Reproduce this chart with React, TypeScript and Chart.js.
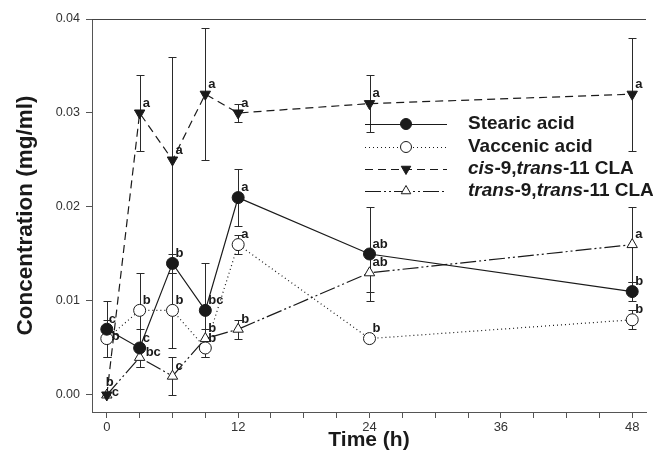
import React, { useEffect, useRef } from 'react';
import { Chart, registerables } from 'chart.js';

Chart.register(...registerables);

const FONT = '"Liberation Sans", Arial, Helvetica, sans-serif';

// ---- data ----
const times = [0, 3, 6, 9, 12, 24, 48];

const stearic = [0.007, 0.005, 0.014, 0.009, 0.021, 0.015, 0.011];
const stearicErr = [0.003, 0.002, 0.001, 0.005, 0.003, 0.005, 0.001];
const stearicLetters = ['c', 'c', 'b', 'bc', 'a', 'ab', 'b'];

const vaccenic = [0.006, 0.009, 0.009, 0.005, 0.016, 0.006, 0.008];
const vaccenicErr = [0.002, 0.004, 0.004, 0.001, 0.001, 0, 0.001];
const vaccenicLetters = ['b', 'b', 'b', 'b', 'a', 'b', 'b'];

const cisCLA = [0.0, 0.03, 0.025, 0.032, 0.03, 0.031, 0.032];
const cisCLAErr = [0, 0.004, 0.011, 0.007, 0.001, 0.003, 0.006];
const cisCLALetters = ['b', 'a', 'a', 'a', 'a', 'a', 'a'];

const transCLA = [0.0, 0.004, 0.002, 0.006, 0.007, 0.013, 0.016];
const transCLAErr = [0, 0.001, 0.002, 0.001, 0.001, 0.002, 0.004];
const transCLALetters = ['c', 'bc', 'c', 'b', 'b', 'ab', 'a'];

const xTicks = [0, 3, 6, 9, 12, 15, 18, 21, 24, 27, 30, 33, 36, 39, 42, 45, 48];
const xTickLabels = [0, 12, 24, 36, 48];
const yTicks = [0, 0.01, 0.02, 0.03, 0.04];

// legend label pieces (text, italic)
const legendLabels: [string, boolean][][] = [
  [['Stearic acid', false]],
  [['Vaccenic acid', false]],
  [['cis', true], ['-9,', false], ['trans', true], ['-11 CLA', false]],
  [['trans', true], ['-9,', false], ['trans', true], ['-11 CLA', false]],
];

// ---- styles ----
const INK = '#1a1a1a';
const seriesStyles = [
  { pointStyle: 'circle', rotation: 0, fill: INK, dash: [] as number[] },
  { pointStyle: 'circle', rotation: 0, fill: '#ffffff', dash: [1, 3] },
  { pointStyle: 'triangle', rotation: 180, fill: INK, dash: [8, 5] },
  { pointStyle: 'triangle', rotation: 0, fill: '#ffffff', dash: [16, 3, 2, 3, 2, 3] },
];

// per-label offset overrides (series index, point index) -> [dx, dy]
const letterOffsets: Record<string, [number, number]> = {
  '0-0': [2, -10],
  '1-0': [5, -2],
  '2-0': [-1, -13],
  '3-0': [5, -3],
  '3-1': [6, -5],
};

const series = [
  { values: stearic, err: stearicErr, letters: stearicLetters },
  { values: vaccenic, err: vaccenicErr, letters: vaccenicLetters },
  { values: cisCLA, err: cisCLAErr, letters: cisCLALetters },
  { values: transCLA, err: transCLAErr, letters: transCLALetters },
];

const errorBarPlugin = {
  id: 'errorBars',
  beforeDatasetsDraw(chart: any) {
    const { ctx, scales } = chart;
    const x = scales.x, y = scales.y;
    ctx.save();
    ctx.strokeStyle = '#2a2a2a';
    ctx.lineWidth = 1;
    ctx.setLineDash([]);
    series.forEach((s) => {
      s.values.forEach((v, i) => {
        const e = s.err[i];
        if (!e) return;
        const px = Math.round(x.getPixelForValue(times[i])) + 0.5;
        const top = Math.round(y.getPixelForValue(v + e)) + 0.5;
        const bot = Math.round(y.getPixelForValue(v - e)) + 0.5;
        ctx.beginPath();
        ctx.moveTo(px, top);
        ctx.lineTo(px, bot);
        ctx.moveTo(px - 4, top);
        ctx.lineTo(px + 4, top);
        ctx.moveTo(px - 4, bot);
        ctx.lineTo(px + 4, bot);
        ctx.stroke();
      });
    });
    ctx.restore();
  },
};

const lettersPlugin = {
  id: 'letters',
  afterDatasetsDraw(chart: any) {
    const { ctx, scales } = chart;
    const x = scales.x, y = scales.y;
    ctx.save();
    ctx.fillStyle = INK;
    ctx.font = `bold 13px ${FONT}`;
    ctx.textAlign = 'left';
    ctx.textBaseline = 'middle';
    series.forEach((s, si) => {
      s.values.forEach((v, i) => {
        const off = letterOffsets[`${si}-${i}`] || [3, -10];
        const px = x.getPixelForValue(times[i]);
        const py = y.getPixelForValue(v);
        ctx.fillText(s.letters[i], px + off[0], py + off[1]);
      });
    });
    ctx.restore();
  },
};

function drawMarker(ctx: CanvasRenderingContext2D, idx: number, cx: number, cy: number, r: number) {
  const st = seriesStyles[idx];
  ctx.save();
  ctx.setLineDash([]);
  ctx.fillStyle = st.fill;
  ctx.strokeStyle = INK;
  ctx.lineWidth = 1;
  ctx.beginPath();
  if (st.pointStyle === 'circle') {
    ctx.arc(cx, cy, r, 0, Math.PI * 2);
  } else {
    const dir = st.rotation === 180 ? -1 : 1;
    ctx.moveTo(cx, cy - dir * r);
    ctx.lineTo(cx + r * 0.866, cy + dir * r * 0.5);
    ctx.lineTo(cx - r * 0.866, cy + dir * r * 0.5);
    ctx.closePath();
  }
  ctx.fill();
  ctx.stroke();
  ctx.restore();
}

const framePlugin = {
  id: 'frameAndLegend',
  afterDraw(chart: any) {
    const { ctx, chartArea } = chart;
    ctx.save();
    // top frame line
    ctx.strokeStyle = '#444';
    ctx.lineWidth = 1;
    ctx.beginPath();
    ctx.moveTo(chartArea.left, Math.round(chartArea.top) + 0.5);
    ctx.lineTo(chartArea.right, Math.round(chartArea.top) + 0.5);
    ctx.stroke();

    // legend
    const lx0 = 365, lx1 = 447, mx = 406, tx = 468;
    const rows = [124, 147, 169, 191];
    rows.forEach((ry, k) => {
      const st = seriesStyles[k];
      ctx.strokeStyle = INK;
      ctx.lineWidth = 1.2;
      ctx.setLineDash(st.dash);
      ctx.beginPath();
      ctx.moveTo(lx0, ry + 0.5);
      ctx.lineTo(lx1, ry + 0.5);
      ctx.stroke();
      ctx.setLineDash([]);
      drawMarker(ctx, k, mx, ry, 5.5);
      let cx = tx;
      ctx.fillStyle = INK;
      ctx.textAlign = 'left';
      ctx.textBaseline = 'middle';
      legendLabels[k].forEach(([t, it]) => {
        ctx.font = `${it ? 'italic ' : ''}bold 19px ${FONT}`;
        ctx.fillText(t, cx, ry);
        cx += ctx.measureText(t).width;
      });
    });
    ctx.restore();
  },
};

export default function App() {
  const ref = useRef<HTMLCanvasElement | null>(null);

  useEffect(() => {
    if (!ref.current) return;
    const datasets = series.map((s, k) => {
      const st = seriesStyles[k];
      return {
        label: legendLabels[k].map((p) => p[0]).join(''),
        data: times.map((t, i) => ({ x: t, y: s.values[i] })),
        borderColor: INK,
        borderWidth: 1.2,
        borderDash: st.dash,
        pointStyle: st.pointStyle,
        pointRotation: st.rotation,
        pointRadius: 6,
        pointHoverRadius: 6,
        pointBackgroundColor: st.fill,
        pointBorderColor: INK,
        pointBorderWidth: 1,
        tension: 0,
        fill: false,
      };
    });

    const chart = new Chart(ref.current, {
      type: 'line',
      data: { datasets: datasets as any },
      options: {
        responsive: false,
        animation: false,
        layout: { padding: { top: 19, right: 0, left: 0, bottom: 0 } },
        plugins: {
          legend: { display: false },
          tooltip: { enabled: false },
        },
        scales: {
          x: {
            type: 'linear',
            min: -1.353,
            max: 49.26,
            afterBuildTicks: (s: any) => {
              s.ticks = xTicks.map((v) => ({ value: v }));
            },
            afterFit: (s: any) => {
              s.height = 53;
            },
            ticks: {
              autoSkip: false,
              maxRotation: 0,
              padding: 2,
              color: '#333',
              font: { family: FONT, size: 13 },
              callback: (v: any) => (xTickLabels.includes(Number(v)) ? String(v) : ''),
            },
            grid: { drawOnChartArea: false, drawTicks: true, tickLength: 6, color: '#555' },
            border: { display: true, color: '#555', width: 1 },
            title: {
              display: true,
              text: 'Time (h)',
              color: INK,
              font: { family: FONT, size: 21, weight: 'bold' },
              padding: { top: 0, bottom: 12 },
            },
          },
          y: {
            type: 'linear',
            min: -0.00181,
            max: 0.04,
            afterBuildTicks: (s: any) => {
              s.ticks = yTicks.map((v) => ({ value: v }));
            },
            afterFit: (s: any) => {
              s.width = 92;
            },
            ticks: {
              padding: 6,
              color: '#333',
              font: { family: FONT, size: 12.5 },
              callback: (v: any) => Number(v).toFixed(2),
            },
            grid: { drawOnChartArea: false, drawTicks: true, tickLength: 6, color: '#555' },
            border: { display: true, color: '#555', width: 1 },
            title: {
              display: true,
              text: 'Concentration (mg/ml)',
              color: INK,
              font: { family: FONT, size: 22.5, weight: 'bold' },
              padding: { top: 12, bottom: 0 },
            },
          },
        },
      },
      plugins: [errorBarPlugin, lettersPlugin, framePlugin],
    });
    return () => chart.destroy();
  }, []);

  return (
    <div style={{ position: 'absolute', left: 0, top: 0, width: 653, height: 465, background: '#fff' }}>
      <canvas ref={ref} width={653} height={465} style={{ display: 'block' }} />
    </div>
  );
}
